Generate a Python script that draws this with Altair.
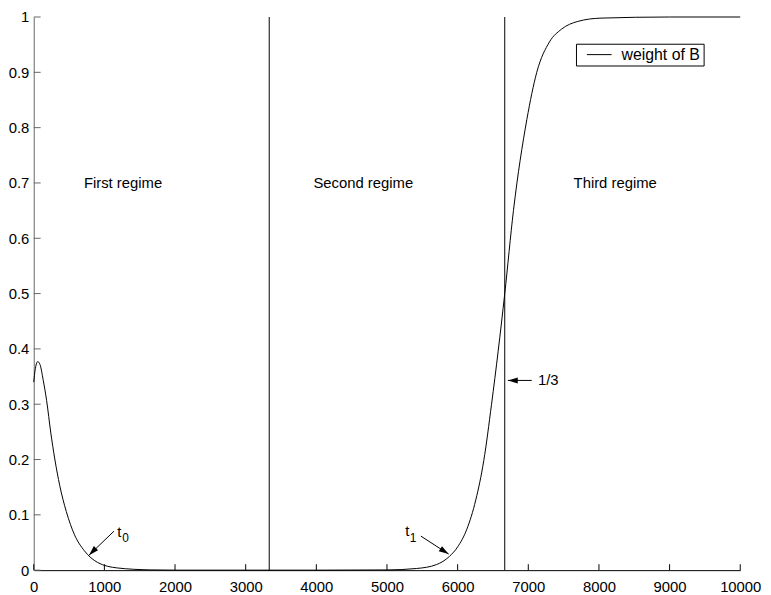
import altair as alt
import pandas as pd

# ---- data ----
curve_x = [0, 19, 56, 88, 135, 182, 242, 298, 368, 461, 577, 717, 903, 1183, 1650,
           2000, 3000, 4000, 5000, 5420, 5700, 5885, 6000, 6130, 6257, 6370, 6480, 6667,
           6790, 6980, 7120, 7300, 7470, 7700, 8030, 9000, 10000]
curve_y = [0.340, 0.361, 0.377, 0.372, 0.343, 0.307, 0.248, 0.201, 0.153, 0.106, 0.064,
           0.035, 0.014, 0.004, 0.0005, 0.0, 0.0, 0.0, 0.0004, 0.003, 0.010, 0.025, 0.042,
           0.074, 0.127, 0.198, 0.300, 0.500, 0.650, 0.815, 0.900, 0.955, 0.978, 0.992,
           0.998, 1.0, 1.0]
series_name = "weight of B"

boundary_x = [10000 / 3, 20000 / 3]

regime_x = [1264, 4665, 8230]
regime_y = [0.7, 0.7, 0.7]
regime_labels = ["First regime", "Second regime", "Third regime"]

x_tick_values = [0, 1000, 2000, 3000, 4000, 5000, 6000, 7000, 8000, 9000, 10000]
y_tick_values = [0, 0.1, 0.2, 0.3, 0.4, 0.5, 0.6, 0.7, 0.8, 0.9, 1.0]

t_x = [1183, 5260]
t_y = [0.060, 0.062]
t_text = ["t", "t"]
sub_x = [1253, 5321]
sub_y = [0.0515, 0.0500]
sub_text = ["0", "1"]

arrow_x = [1136, 5479, 7049]
arrow_y = [0.0705, 0.0616, 0.343]
arrow_x2 = [782, 5873, 6711]
arrow_y2 = [0.027, 0.029, 0.343]
arrow_angle = [225, 123, 270]

frac_x = [7137]
frac_y = [0.343]
frac_text = ["1/3"]

# ---- layout ----
W, H = 714, 559
FONT = "Liberation Sans"

xs = alt.Scale(domain=[0, 10000], nice=False, zero=False)
ys = alt.Scale(domain=[0, 1], nice=False, zero=False)

curve_df = pd.DataFrame({"x": curve_x, "y": curve_y, "series": series_name})

curve = alt.Chart(curve_df).mark_line(strokeWidth=1, interpolate="monotone").encode(
    x=alt.X("x:Q", scale=xs, title=None,
            axis=alt.Axis(values=x_tick_values, format="d", labelFlush=False)),
    y=alt.Y("y:Q", scale=ys, title=None,
            axis=alt.Axis(values=y_tick_values, format="~g", labelFlush=False)),
    color=alt.Color("series:N", scale=alt.Scale(range=["black"]),
                    legend=alt.Legend(title=None, orient="none", legendX=548, legendY=27,
                                      symbolType="M-2,0H2", symbolSize=156,
                                      symbolStrokeWidth=1, symbolOffset=12.5,
                                      symbolStrokeColor="black",
                                      symbolFillColor="transparent",
                                      strokeColor="black", fillColor="white",
                                      padding=3, labelOffset=14.5, labelFontSize=16,
                                      labelFont=FONT, labelColor="black",
                                      labelExpr="datum.label + '\u00a0\u00a0'")),
)

bounds = alt.Chart(pd.DataFrame({"x": boundary_x})).mark_rule(
    color="black", strokeWidth=1).encode(x=alt.X("x:Q", scale=xs, title=None))

xticks = alt.Chart(pd.DataFrame({"x": x_tick_values})).mark_rule(
    color="black", strokeWidth=1).encode(
    x=alt.X("x:Q", scale=xs, title=None), y=alt.value(H), y2=alt.value(H - 6))

yticks = alt.Chart(pd.DataFrame({"y": y_tick_values})).mark_rule(
    color="#666666", strokeWidth=1).encode(
    y=alt.Y("y:Q", scale=ys, title=None), x=alt.value(0), x2=alt.value(7))

regimes = alt.Chart(pd.DataFrame({"x": regime_x, "y": regime_y, "t": regime_labels})).mark_text(
    fontSize=15, font=FONT, color="black", align="center", baseline="middle").encode(
    x=alt.X("x:Q", scale=xs, title=None), y=alt.Y("y:Q", scale=ys, title=None), text="t:N")

tlab = alt.Chart(pd.DataFrame({"x": t_x, "y": t_y, "t": t_text})).mark_text(
    fontSize=15, font=FONT, color="black", align="left", baseline="alphabetic").encode(
    x=alt.X("x:Q", scale=xs, title=None), y=alt.Y("y:Q", scale=ys, title=None), text="t:N")

sublab = alt.Chart(pd.DataFrame({"x": sub_x, "y": sub_y, "t": sub_text})).mark_text(
    fontSize=12, font=FONT, color="black", align="left", baseline="alphabetic").encode(
    x=alt.X("x:Q", scale=xs, title=None), y=alt.Y("y:Q", scale=ys, title=None), text="t:N")

frac = alt.Chart(pd.DataFrame({"x": frac_x, "y": frac_y, "t": frac_text})).mark_text(
    fontSize=15, font=FONT, color="black", align="left", baseline="middle").encode(
    x=alt.X("x:Q", scale=xs, title=None), y=alt.Y("y:Q", scale=ys, title=None), text="t:N")

arrow_df = pd.DataFrame({"x": arrow_x, "y": arrow_y, "x2": arrow_x2, "y2": arrow_y2,
                         "angle": arrow_angle})

shafts = alt.Chart(arrow_df).mark_rule(color="black", strokeWidth=1).encode(
    x=alt.X("x:Q", scale=xs, title=None), y=alt.Y("y:Q", scale=ys, title=None),
    x2="x2:Q", y2="y2:Q")

heads = alt.Chart(arrow_df).mark_point(
    shape="M0,0L0.3,1L-0.3,1Z", filled=True, color="black", opacity=1, size=400,
    strokeWidth=0).encode(
    x=alt.X("x2:Q", scale=xs, title=None), y=alt.Y("y2:Q", scale=ys, title=None),
    angle=alt.Angle("angle:Q", scale=None))

chart = alt.layer(curve, bounds, xticks, yticks, regimes, tlab, sublab, frac, shafts, heads).properties(
    width=W, height=H,
    autosize=alt.AutoSizeParams(type="none"),
    padding={"left": 26, "top": 6, "right": 23, "bottom": 22},
).configure_view(stroke=None).configure_axis(
    grid=False, ticks=False, labelFont=FONT, labelFontSize=15, labelColor="black",
    domainWidth=1,
).configure_axisX(domainColor="black", labelPadding=10).configure_axisY(
    domainColor="#666666", labelPadding=5)

chart.save("out.html", embed_options={"renderer": "svg", "actions": False})
